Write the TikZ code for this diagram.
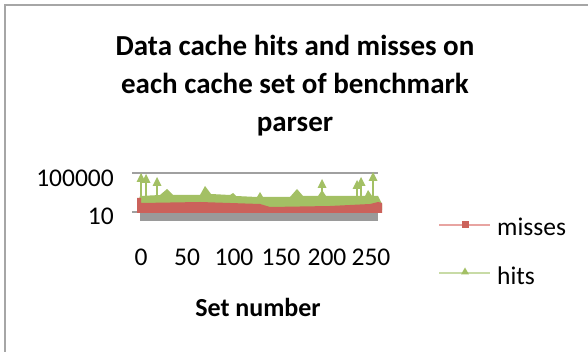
\documentclass[tikz,border=0pt]{standalone}
\usepackage{fontspec}
\setmainfont{Carlito}
\usetikzlibrary{shapes.geometric}
\definecolor{frame}{HTML}{A6A6A6}
\definecolor{grid}{HTML}{A0A0A0}
\definecolor{hitc}{HTML}{A3C064}
\definecolor{missc}{HTML}{CB625B}
\definecolor{floorc}{HTML}{9A9A9A}
\definecolor{misslight}{HTML}{E8A4A1}
\definecolor{hitlight}{HTML}{C8DBA6}
\begin{document}
\begin{tikzpicture}[x=1pt,y=-1pt,
  lbl/.style={inner sep=0pt,font=\fontsize{25.5}{27}\selectfont},
  ttl/.style={inner sep=0pt,anchor=base,font=\bfseries\fontsize{29}{32}\selectfont,align=center},
  spike/.style={draw=hitc,line width=1.6pt},
  tri/.style={fill=hitc,draw=none}]
\useasboundingbox (0,0) rectangle (588,352);
\fill[white] (0,0) rectangle (588,352);
% frame
\draw[frame,line width=2pt] (5,352) -- (5,5) -- (588,5);
% title
\node[ttl] (t1) at (295,56) {Data cache hits and misses on};
\node[ttl] (t2) at (295,94) {each cache set of benchmark};
\node[ttl] (t3) at (295,132) {parser};
% grid and axis
\draw[grid,line width=1.3pt] (132,173) -- (378,173);
\draw[grid,line width=1.3pt] (132,212) -- (141,212);
\draw[grid,line width=0.8pt] (141,173) -- (141,212);
% floor
\fill[floorc] (140,213) rectangle (378,221);
% hits area
\fill[hitc] (137,205) -- (140,196) -- (160,195) -- (167,189) -- (173,195) -- (200,195)
  -- (205,186) -- (211,194) -- (230,195) -- (233,193) -- (236,196) -- (257,197)
  -- (260,192) -- (263,197) -- (290,197) -- (297,189) -- (303,196) -- (318,196)
  -- (322,190) -- (326,196) -- (365,196) -- (368,190) -- (372,196) -- (378,196)
  -- (382,204) -- (382,210) -- (137,210) -- cycle;
% spikes
\foreach \sx/\sy in {141/178,146/179,157/182,322/184,357/185,361/182,373/177}{
  \draw[spike] (\sx,197) -- (\sx,\sy);
  \fill[tri] (\sx-4.5,\sy+4) -- (\sx,\sy-5) -- (\sx+4.5,\sy+4) -- cycle;
}
% misses area
\fill[missc] (137,198) -- (141,198) -- (141,203) -- (200,202) -- (260,204) -- (270,207)
  -- (330,206) -- (370,204) -- (378,202) -- (382,203) -- (382,213) -- (137,213) -- cycle;
% axis labels
\node[lbl,anchor=east] (y1) at (114,178) {100000};
\node[lbl,anchor=east] (y2) at (114,216) {10};
\node[lbl] (x0) at (141,257) {0};
\node[lbl] (x1) at (187,257) {50};
\node[lbl] (x2) at (234,257) {100};
\node[lbl] (x3) at (281,257) {150};
\node[lbl] (x4) at (327,257) {200};
\node[lbl] (x5) at (371,257) {250};
\node[inner sep=0pt,font=\bfseries\fontsize{26}{28}\selectfont] (xt) at (258,307) {Set number};
% legend
\coordinate (m1) at (439,225);
\coordinate (m2) at (490,225);
\draw[misslight,line width=1.3pt] (m1) -- (m2);
\node[fill=missc,minimum size=7pt,inner sep=0pt] (mk) at (465,225) {};
\node[lbl,anchor=west] (ml) at (497,227) {misses};
\coordinate (h1) at (439,273);
\coordinate (h2) at (490,273);
\draw[hitlight,line width=1.3pt] (h1) -- (h2);
\node[fill=hitc,regular polygon,regular polygon sides=3,minimum size=9pt,inner sep=0pt] (hk) at (465,272) {};
\node[lbl,anchor=west] (hl) at (497,276) {hits};
\end{tikzpicture}
\end{document}
